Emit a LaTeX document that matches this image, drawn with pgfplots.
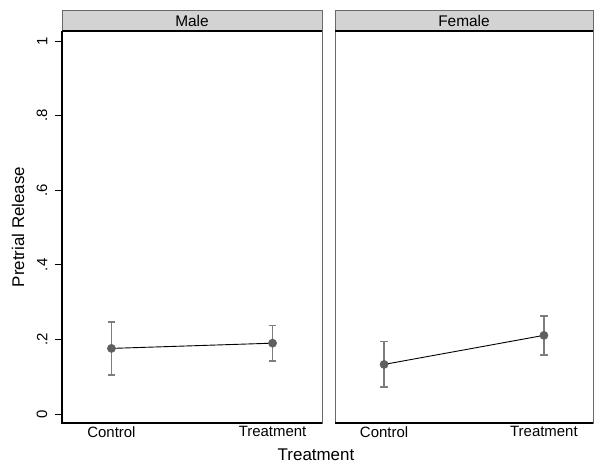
\documentclass[border=0pt]{standalone}
\usepackage{pgfplots}
\pgfplotsset{compat=1.18}
\usepackage{pgfplotstable}
\usepackage{fontspec}
\setmainfont{Liberation Sans}
\definecolor{stripgray}{RGB}{211,211,211}
\definecolor{mkgray}{RGB}{95,95,95}
\definecolor{ebgray}{RGB}{125,125,125}
\definecolor{framegray}{RGB}{105,105,105}

\pgfplotstableread{
x y lo hi
0 0.176 0.105 0.247
1 0.190 0.142 0.237
}\male
\pgfplotstableread{
x y lo hi
0 0.133 0.072 0.194
1 0.211 0.159 0.263
}\female

\pgfplotsset{
 panel/.style={
  scale only axis, height=392bp,
  anchor=south west,
  xmin=-0.307, xmax=1.307, ymin=-0.024, ymax=1.027,
  clip=false,
  axis line style={framegray, line width=0.8bp},
  xtick={0,1}, xticklabels={Control,Treatment},
  x tick style={draw=none},
  extra x ticks={-0.25,1.25}, extra x tick labels={},
  extra x tick style={tick align=inside, major tick length=2.5bp, tick style={black, line width=0.6bp}, xticklabel style={draw=none}},
  xticklabel style={font=\fontsize{15}{17}\selectfont, inner sep=0pt, yshift=-3bp},
  /pgf/number format/assume math mode=true,
  every axis title/.style={at={(0.5,1)}, anchor=center, yshift=10.5bp, font=\fontsize{15.5}{17}\selectfont},
 },
 errs/.style={draw=none, mark=none, forget plot,
  error bars/.cd, y dir=both, y explicit,
  error bar style={ebgray, line width=1.6bp},
  error mark options={rotate=90, mark size=3.8bp, ebgray, line width=1.6bp}},
 pts/.style={black, line width=0.9bp, mark=*, mark size=4.1bp,
  mark options={fill=mkgray, draw=mkgray, line width=0.5bp}},
}

\begin{document}
\begin{tikzpicture}
\useasboundingbox (0,0) rectangle (594bp,466bp);
\begin{axis}[panel, at={(62bp,43bp)}, width=260bp,
  title={Male},
  ytick={0,0.2,0.4,0.6,0.8,1}, yticklabels={0,.2,.4,.6,.8,1},
  ytick pos=left, tick align=outside, major tick length=7bp,
  y tick style={black, line width=0.8bp},
  yticklabel style={rotate=90, anchor=south, inner sep=7.5bp, font=\fontsize{15}{17}\selectfont},
  xticklabel style={yshift=7bp},
  ylabel={Pretrial Release},
  ylabel style={at={(axis description cs:-0.169,0.5)}, anchor=center, font=\fontsize{17}{20}\selectfont},
]
\filldraw[fill=stripgray, draw=framegray, line width=0.8bp] (rel axis cs:0,1) rectangle ([yshift=21bp]rel axis cs:1,1);
\addplot[errs] table[x=x, y=y, y error plus expr=\thisrow{hi}-\thisrow{y}, y error minus expr=\thisrow{y}-\thisrow{lo}] {\male};
\addplot[pts] table[x=x, y=y] {\male};
\draw[black, line width=1.1bp] (rel axis cs:0,1) -- (rel axis cs:0,0) -- (rel axis cs:1,0);
\draw[black, line width=1.6bp] (rel axis cs:0,1) -- (rel axis cs:1,1);
\end{axis}
\begin{axis}[panel, at={(335bp,43bp)}, width=258bp,
  title={Female},
  ytick=\empty,
]
\filldraw[fill=stripgray, draw=framegray, line width=0.8bp] (rel axis cs:0,1) rectangle ([yshift=21bp]rel axis cs:1,1);
\addplot[errs] table[x=x, y=y, y error plus expr=\thisrow{hi}-\thisrow{y}, y error minus expr=\thisrow{y}-\thisrow{lo}] {\female};
\addplot[pts] table[x=x, y=y] {\female};
\draw[black, line width=1.1bp] (rel axis cs:0,0) -- (rel axis cs:1,0);
\draw[black, line width=1.6bp] (rel axis cs:0,1) -- (rel axis cs:1,1);
\end{axis}
\node[font=\fontsize{17}{20}\selectfont] at (316bp,11bp) {Treatment};
\end{tikzpicture}
\end{document}
